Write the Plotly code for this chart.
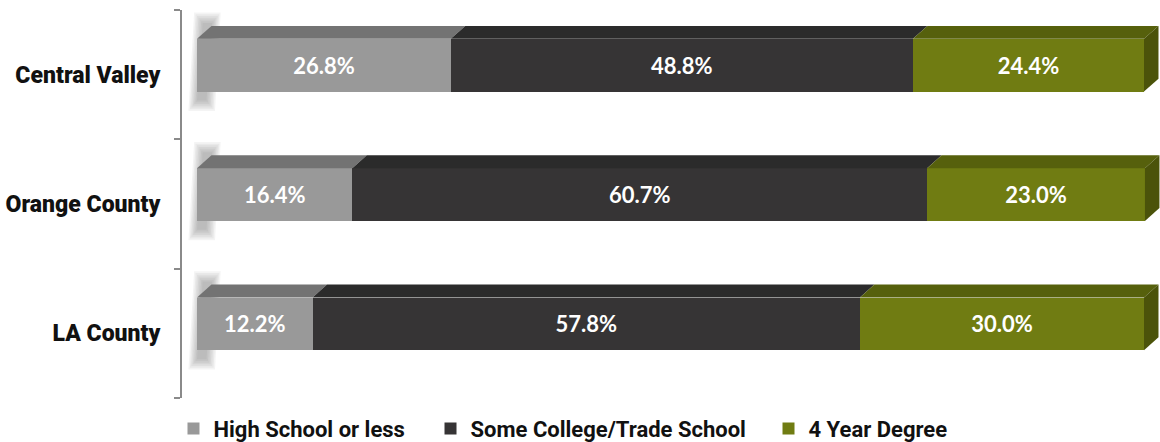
import plotly.graph_objects as go

categories = ["LA County", "Orange County", "Central Valley"]
series_names = ["High School or less", "Some College/Trade School", "4 Year Degree"]
high_school = [12.2, 16.4, 26.8]
some_college = [57.8, 60.7, 48.8]
four_year = [30.0, 23.0, 24.4]

front_colors = ["#999999", "#363435", "#707c12"]
top_colors = ["#737373", "#2b2b2b", "#56600c"]
side_color = "#4b530a"

values = [high_school, some_college, four_year]
ypos = list(range(len(categories)))

BAR_W = 0.408
BAR_OFF = -0.131
DX = 1.53   # depth in x units
DY = 0.10   # depth in y units

LABEL_FONT = "Roboto"
LEGEND_X = [-0.0087, 0.2541, 0.5997]
legend_ids = ["legend", "legend2", "legend3"]
fig = go.Figure()

# 3D top faces and side faces (drawn from the data)
for si, vals in enumerate(values):
    for ci, y in enumerate(ypos):
        x0 = sum(values[k][ci] for k in range(si))
        x1 = x0 + vals[ci]
        yt = y + BAR_OFF + BAR_W
        fig.add_trace(go.Scatter(
            x=[x0, x1, x1 + DX, x0 + DX, x0],
            y=[yt, yt, yt + DY, yt + DY, yt],
            fill="toself", fillcolor=top_colors[si], mode="lines",
            line=dict(width=0), showlegend=False, hoverinfo="skip"))
        if si == len(values) - 1:
            yb = y + BAR_OFF
            fig.add_trace(go.Scatter(
                x=[x1, x1 + DX, x1 + DX, x1, x1],
                y=[yb, yb + DY, yt + DY, yt, yb],
                fill="toself", fillcolor=side_color, mode="lines",
                line=dict(width=0), showlegend=False, hoverinfo="skip"))

for si, vals in enumerate(values):
    fig.add_trace(go.Bar(
        y=ypos, x=vals, orientation="h", name=series_names[si],
        marker=dict(color=front_colors[si], line=dict(width=0)),
        width=BAR_W, offset=BAR_OFF, legend=legend_ids[si],
        text=[f"{v:.1f}%" for v in vals], textposition="inside",
        insidetextanchor="middle", constraintext="none",
        textfont=dict(color="white", size=22, family="Lato", weight="bold"),
    ))

# soft shadow behind the left end of each bar
shapes = []
steps = 7
for y in ypos:
    for k in range(steps):
        g = (steps - 1 - k) / (steps - 1)
        gx, gy = 0.9 * g, 0.08 * g
        xl_b, xr_b = 0.0 - gx, 1.0 + gx
        xl_t, xr_t = 0.6 - gx, 1.6 + gx
        yb = y - 0.20 - gy
        ytp = y + 0.40 + gy
        shapes.append(dict(
            type="path", xref="x", yref="y", layer="below",
            path=f"M{xl_b},{yb} L{xr_b},{yb} L{xr_t},{ytp} L{xl_t},{ytp} Z",
            fillcolor="rgba(70,70,70,0.06)", line=dict(width=0)))

legend_common = dict(orientation="h", xanchor="left", y=-0.025, yanchor="top",
                     font=dict(family=LABEL_FONT, size=22, color="#111111", weight="bold"),
                     itemwidth=30, bgcolor="rgba(0,0,0,0)")
layout_legends = {lid: dict(legend_common, x=LEGEND_X[i]) for i, lid in enumerate(legend_ids)}

fig.update_layout(
    barmode="stack",
    width=1160, height=442,
    margin=dict(l=182, r=0, t=10, b=44, autoexpand=False),
    paper_bgcolor="white", plot_bgcolor="white",
    shapes=shapes,
    showlegend=True,
    xaxis=dict(range=[-1.584, 101.69], visible=False, fixedrange=True),
    yaxis=dict(range=[-0.5, 2.5], tickvals=ypos, ticktext=categories,
               ticks="", showgrid=False, zeroline=False, automargin=False,
               showline=True, linecolor="#8a8a8a", linewidth=2,
               tickfont=dict(family=LABEL_FONT, size=23, color="#111111", weight=900),
               ticklabelstandoff=15, fixedrange=True,
               minor=dict(tickvals=[-0.5, 0.5, 1.5, 2.5], ticks="outside",
                          ticklen=6, tickcolor="#8a8a8a", tickwidth=2, showgrid=False)),
    **layout_legends,
)

post = """
document.body.style.margin='0';
document.body.style.overflow='hidden';
"""
fig.write_html("out.html", post_script=post, config={"displayModeBar": False, "staticPlot": True})
